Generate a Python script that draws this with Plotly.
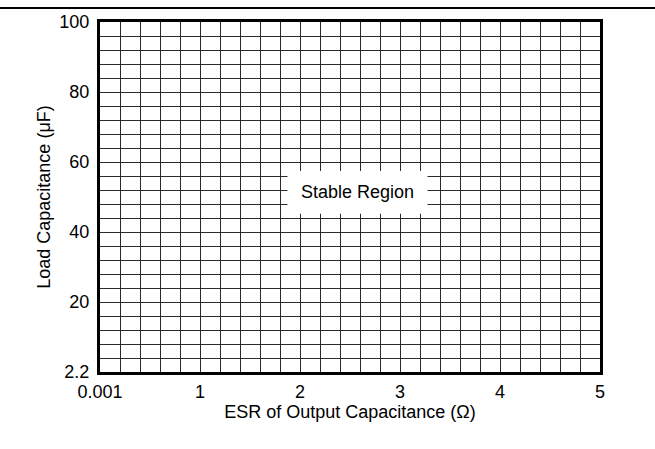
import plotly.graph_objects as go

# Axis data
x_tick_vals = [0, 1, 2, 3, 4, 5]
x_tick_text = ["0.001", "1", "2", "3", "4", "5"]
y_tick_vals = [0, 20, 40, 60, 80, 100]
y_tick_text = ["2.2", "20", "40", "60", "80", "100"]
x_range = [0, 5]
y_range = [0, 100]
x_minor_step = 0.2
y_minor_step = 4

# Stable region label
region_label = "Stable Region"
region_x = [1.875, 3.275]
region_y = [45.2, 57.4]

FONT = "Liberation Sans, Arial, sans-serif"
FS = 18
GRID = "#2a2a2a"

fig = go.Figure()
fig.add_trace(go.Scatter(x=x_range, y=y_range, mode="markers",
                         marker=dict(opacity=0), hoverinfo="skip",
                         showlegend=False))

fig.update_layout(
    width=655, height=449,
    margin=dict(l=100, r=55, t=20, b=77),
    paper_bgcolor="white", plot_bgcolor="white",
    font=dict(family=FONT, size=FS, color="black"),
    showlegend=False,
)
fig.update_xaxes(
    range=x_range, tickvals=x_tick_vals, ticktext=x_tick_text,
    tickfont=dict(family=FONT, size=FS),
    showgrid=True, gridcolor=GRID, gridwidth=1,
    minor=dict(dtick=x_minor_step, tick0=0, showgrid=True, gridcolor=GRID, gridwidth=1),
    showline=True, linecolor="black", linewidth=3, mirror=True,
    zeroline=False, ticks="", ticklabelstandoff=1,
    title=dict(text="ESR of Output Capacitance (Ω)", standoff=3,
               font=dict(family=FONT, size=FS)),
)
fig.update_yaxes(
    range=y_range, tickvals=y_tick_vals, ticktext=y_tick_text,
    tickfont=dict(family=FONT, size=FS),
    showgrid=True, gridcolor=GRID, gridwidth=1,
    minor=dict(dtick=y_minor_step, tick0=0, showgrid=True, gridcolor=GRID, gridwidth=1),
    showline=True, linecolor="black", linewidth=3, mirror=True,
    zeroline=False, ticks="", ticklabelstandoff=4,
    title=dict(text="Load Capacitance (μF)", standoff=5,
               font=dict(family=FONT, size=FS)),
)

# white box behind label
fig.add_shape(type="rect", xref="x", yref="y",
              x0=region_x[0], x1=region_x[1], y0=region_y[0], y1=region_y[1],
              fillcolor="white", line=dict(width=0), layer="above")
fig.add_annotation(x=sum(region_x) / 2, y=sum(region_y) / 2, xref="x", yref="y",
                   text=region_label, showarrow=False,
                   font=dict(family=FONT, size=FS, color="black"))

# top rule across page
fig.add_shape(type="line", xref="paper", yref="paper",
              x0=-0.2, x1=1.11, y0=1.0398, y1=1.0398,
              line=dict(color="black", width=2))

fig.write_html("out.html", config={"displayModeBar": False},
               post_script="document.body.style.margin='0';")
